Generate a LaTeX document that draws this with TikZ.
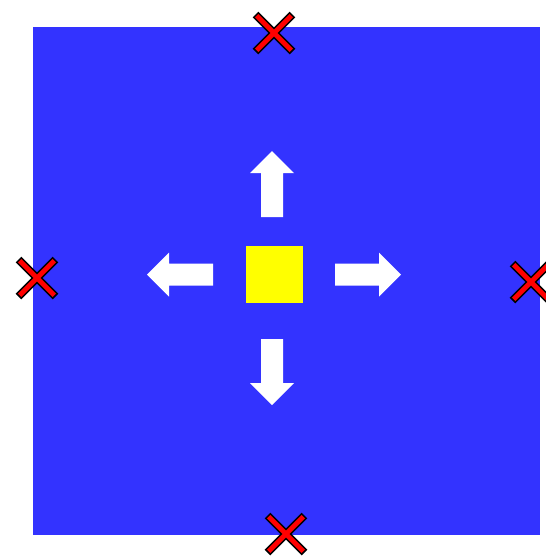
\documentclass[tikz,border=0pt]{standalone}
\usetikzlibrary{math}
\definecolor{myblue}{RGB}{51,51,255}
\definecolor{myred}{RGB}{255,0,0}
\definecolor{myyellow}{RGB}{255,255,0}
\tikzset{
  push/.pic={\fill[white] (0,-11) -- (44,-11) -- (44,-22) -- (66,0) -- (44,22) -- (44,11) -- (0,11) -- cycle;},
  miss/.pic={
    \draw[line width=0.08cm] (-\arml,-\arml) -- (\arml,\arml) (-\arml,\arml) -- (\arml,-\arml);
    \draw[myred,line width=0.048cm] (-\arml+1.2,-\arml+1.2) -- (\arml-1.2,\arml-1.2) (-\arml+1.2,\arml-1.2) -- (\arml-1.2,-\arml+1.2);
  }
}
\begin{document}
\begin{tikzpicture}[x=0.01cm,y=-0.01cm]
\tikzmath{
\cx=274.5;
\cy=274.5;
\sq=28.5;
\arml=18.5;
}
\useasboundingbox (0,0) rectangle (546,557);

\fill[myblue] (33,27) rectangle (540,535);
\fill[myyellow] (\cx-\sq,\cy-\sq) rectangle (\cx+\sq,\cy+\sq);

% pushes out from the source
\pic[rotate=90] at (272,217) {push};
\pic[rotate=-90] at (272,339) {push};
\pic at (335,274.7) {push};
\pic[rotate=180] at (213,274.7) {push};

% misses on the edges
\pic at (274,33) {miss};
\pic at (37,278) {miss};
\pic at (531,282) {miss};
\pic at (286,534) {miss};
\end{tikzpicture}
\end{document}
